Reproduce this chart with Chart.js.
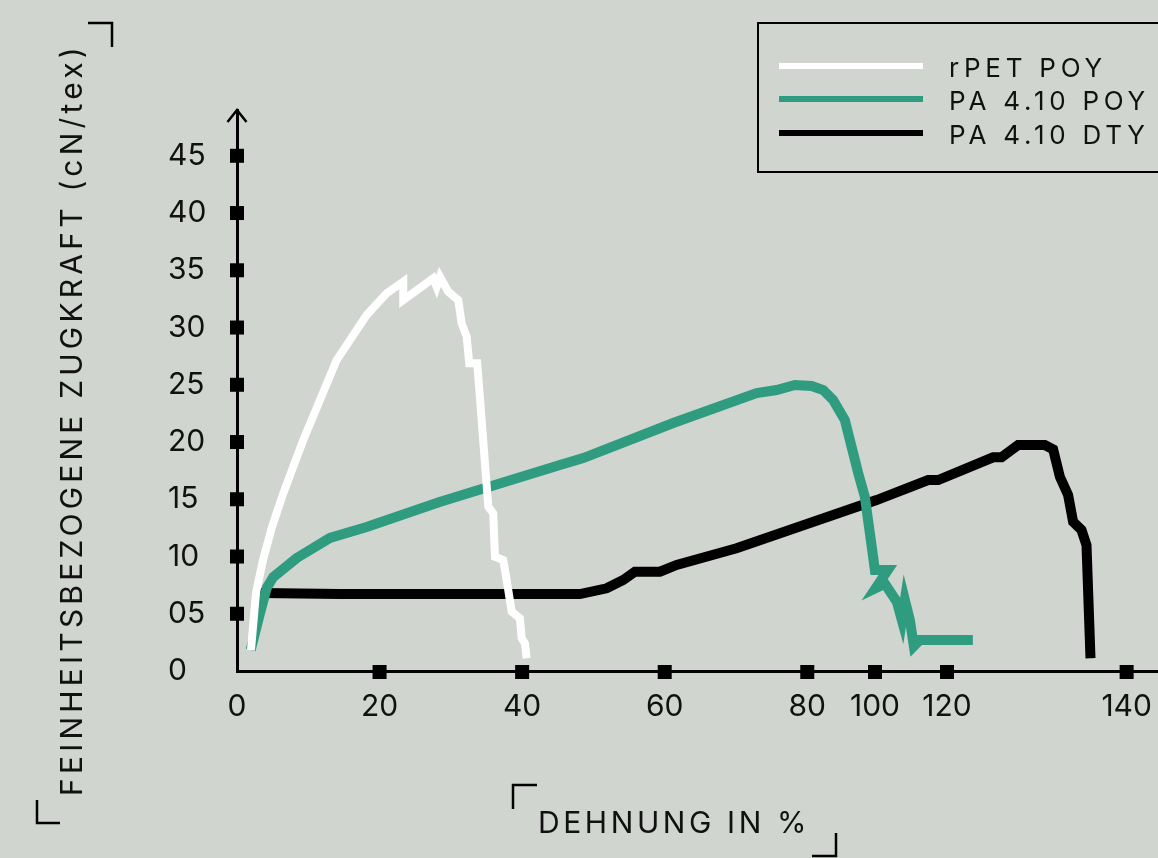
<!DOCTYPE html>
<html>
<head>
<meta charset="utf-8">
<script src="https://cdn.jsdelivr.net/npm/chart.js@4.4.1/dist/chart.umd.min.js"></script>
<style>
  html, body { margin: 0; padding: 0; background: #d0d5cf; }
  canvas { display: block; }
</style>
</head>
<body>
<canvas id="chart" width="1158" height="858"></canvas>
<script>
// series (x = Dehnung, y = cN/tex)
const seriesLabels = ["rPET POY", "PA 4.10 POY", "PA 4.10 DTY"];
const seriesColors = ["#ffffff", "#2f9c7f", "#000000"];

const rpetX = [1.96, 2.66, 3.65, 4.91, 6.49, 9.3, 13.98, 18.19, 21.0, 23.32, 23.32, 27.53, 28.0, 28.47, 29.63, 31.04, 31.51, 32.22, 32.58, 33.7, 34.32, 35.25, 35.95, 36.19, 37.35, 37.83, 38.53, 39.69, 39.93, 40.39, 40.63];
const rpetY = [1.83, 6.81, 9.69, 12.58, 15.52, 20.17, 27.16, 31.09, 32.99, 34.0, 32.4, 34.3, 33.56, 34.44, 33.13, 32.4, 30.37, 29.2, 26.87, 26.87, 21.92, 14.35, 13.77, 9.98, 9.69, 7.95, 5.18, 4.6, 2.86, 2.42, 1.11];

const poyX = [1.92, 3.23, 4.17, 5.09, 8.37, 13.04, 18.19, 28.42, 45.3, 48.57, 61.19, 72.89, 75.69, 78.26, 80.6, 82.23, 83.63, 85.27, 87.14, 88.08, 89.24, 89.48, 91.3, 89.62, 90.88, 92.57, 93.27, 93.69, 94.39, 94.95, 95.79, 103.23];
const poyY = [1.83, 5.07, 7.25, 8.21, 9.87, 11.62, 12.58, 14.76, 17.99, 18.6, 21.66, 24.28, 24.54, 24.98, 24.89, 24.54, 23.67, 21.92, 17.29, 15.2, 9.96, 8.82, 8.82, 7.25, 7.63, 6.03, 4.45, 6.2, 4.45, 2.18, 2.71, 2.71];

const dtyX = [3.23, 14.45, 48.11, 51.85, 54.18, 55.82, 59.33, 61.67, 70.08, 89.72, 96.96, 98.36, 106.07, 107.25, 109.58, 113.32, 114.49, 115.43, 116.59, 117.29, 118.47, 119.17, 119.73];
const dtyY = [6.81, 6.72, 6.72, 7.22, 7.95, 8.67, 8.67, 9.26, 10.72, 14.93, 16.68, 16.68, 18.66, 18.66, 19.74, 19.74, 19.36, 16.97, 15.37, 13.04, 12.31, 11.0, 1.11];

// the axis in the picture is not evenly spaced past 80
const xTickValues = [0, 20, 40, 60, 80, 89.5, 99.6, 124.8];
const xTickLabels = ["0", "20", "40", "60", "80", "100", "120", "140"];
const yTickValues = [0, 5, 10, 15, 20, 25, 30, 35, 40, 45];
const yTickLabels = ["0", "05", "10", "15", "20", "25", "30", "35", "40", "45"];

const xTitle = "DEHNUNG IN %";
const yTitle = "FEINHEITSBEZOGENE ZUGKRAFT (cN/tex)";

const FONT = "Inter, 'Liberation Sans', sans-serif";
const INK = "#111111";

function toPoints(xs, ys) {
  return xs.map((x, i) => ({ x: x, y: ys[i] }));
}

function spacedText(ctx, text, x, y, targetWidth) {
  ctx.letterSpacing = "0px";
  const w = ctx.measureText(text).width;
  const sp = Math.max(0, (targetWidth - w) / text.length);
  ctx.letterSpacing = sp + "px";
  ctx.fillText(text, x, y);
  ctx.letterSpacing = "0px";
}

function line(ctx, pts) {
  ctx.beginPath();
  ctx.moveTo(pts[0][0], pts[0][1]);
  for (let i = 1; i < pts.length; i++) ctx.lineTo(pts[i][0], pts[i][1]);
  ctx.stroke();
}

const decorPlugin = {
  id: "decor",
  beforeDraw(chart) {
    const ctx = chart.ctx;
    ctx.save();
    ctx.fillStyle = "#d0d5cf";
    ctx.fillRect(0, 0, chart.width, chart.height);
    ctx.restore();
  },
  afterDraw(chart) {
    const ctx = chart.ctx;
    const { x, y } = chart.scales;
    const area = chart.chartArea;
    const x0 = x.getPixelForValue(0);
    const y0 = y.getPixelForValue(0);
    ctx.save();

    // arrow at the top of the y axis
    ctx.strokeStyle = "#000";
    ctx.lineWidth = 2.5;
    line(ctx, [[x0 - 9.5, area.top + 12], [x0, area.top], [x0 + 9.5, area.top + 12]]);

    // square tick marks
    ctx.fillStyle = "#000";
    yTickValues.slice(1).forEach(v => {
      ctx.fillRect(x0 - 7, y.getPixelForValue(v) - 7, 14, 14);
    });
    xTickValues.slice(1).forEach(v => {
      ctx.fillRect(x.getPixelForValue(v) - 7, y0 - 6, 14, 14);
    });

    // axis titles
    ctx.fillStyle = INK;
    ctx.font = "400 30px " + FONT;
    ctx.textBaseline = "alphabetic";
    ctx.textAlign = "left";
    spacedText(ctx, xTitle, 538, 833, 272);

    ctx.save();
    ctx.translate(82, 796);
    ctx.rotate(-Math.PI / 2);
    spacedText(ctx, yTitle, 0, 0, 753);
    ctx.restore();

    // corner brackets
    ctx.strokeStyle = "#000";
    ctx.lineWidth = 2.5;
    line(ctx, [[88, 23], [112, 23], [112, 47]]);
    line(ctx, [[37, 800], [37, 823], [60, 823]]);
    line(ctx, [[513, 809], [513, 785], [537, 785]]);
    line(ctx, [[812, 856], [836, 856], [836, 833]]);

    // legend box
    ctx.lineWidth = 2;
    ctx.strokeRect(758, 23, 430, 149);
    ctx.font = "400 26px " + FONT;
    ctx.textBaseline = "alphabetic";
    ctx.letterSpacing = "0px";
    const refW = ctx.measureText("PA 4.10 POY").width;
    const sp = Math.max(0, (201 - refW) / 11);
    const rows = [66, 99, 133];
    chart.data.datasets.forEach((ds, i) => {
      ctx.strokeStyle = ds.borderColor;
      ctx.lineWidth = 6;
      line(ctx, [[779, rows[i]], [923, rows[i]]]);
      ctx.fillStyle = INK;
      ctx.letterSpacing = sp + "px";
      ctx.fillText(ds.label, 949, rows[i] + 11);
    });
    ctx.letterSpacing = "0px";
    ctx.restore();
  }
};

new Chart(document.getElementById("chart"), {
  type: "line",
  data: {
    datasets: [
      { label: seriesLabels[0], data: toPoints(rpetX, rpetY), borderColor: seriesColors[0], borderWidth: 8 },
      { label: seriesLabels[1], data: toPoints(poyX, poyY), borderColor: seriesColors[1], borderWidth: 10 },
      { label: seriesLabels[2], data: toPoints(dtyX, dtyY), borderColor: seriesColors[2], borderWidth: 10 }
    ]
  },
  options: {
    responsive: false,
    animation: false,
    elements: {
      point: { radius: 0, hoverRadius: 0 },
      line: { tension: 0, borderJoinStyle: "miter", borderCapStyle: "butt", fill: false }
    },
    // left padding puts the y labels' left edge at x=168
    layout: { padding: { top: 110, right: 0, left: 168, bottom: 0 } },
    plugins: {
      legend: { display: false },
      title: { display: false },
      tooltip: { enabled: false }
    },
    scales: {
      x: {
        type: "linear",
        min: 0,
        max: 129.2,
        afterBuildTicks: s => { s.ticks = xTickValues.map(v => ({ value: v })); },
        afterFit: s => { s.height = 187; s.paddingLeft = 0; s.paddingRight = 0; },
        grid: { display: false, drawTicks: false },
        border: { display: true, color: "#000", width: 3 },
        ticks: {
          autoSkip: false,
          maxRotation: 0,
          padding: 18,
          color: INK,
          font: { family: FONT, size: 30, weight: 400 },
          callback: (v, i) => xTickLabels[i]
        }
      },
      y: {
        type: "linear",
        min: 0,
        max: 49,
        afterBuildTicks: s => { s.ticks = yTickValues.map(v => ({ value: v })); },
        afterFit: s => { s.width = 69; s.paddingTop = 0; s.paddingBottom = 0; },
        grid: { display: false, drawTicks: false },
        border: { display: true, color: "#000", width: 3 },
        ticks: {
          padding: 30,
          crossAlign: "far",
          color: INK,
          font: { family: FONT, size: 30, weight: 400 },
          callback: (v, i) => yTickLabels[i]
        }
      }
    }
  },
  plugins: [decorPlugin]
});
</script>
</body>
</html>
